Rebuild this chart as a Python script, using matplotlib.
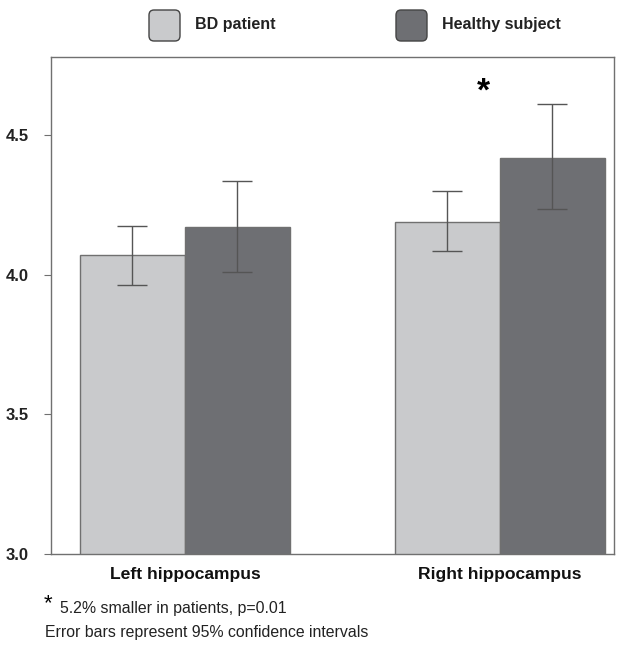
import matplotlib.pyplot as plt
from matplotlib.patches import FancyBboxPatch

plt.rcParams['font.family'] = ['Liberation Sans', 'DejaVu Sans']

regions = ['Left hippocampus', 'Right hippocampus']
groups = ['BD patient', 'Healthy subject']
bd_mean = [4.07, 4.19]
bd_lo = [3.965, 4.085]
bd_hi = [4.175, 4.30]
hs_mean = [4.17, 4.42]
hs_lo = [4.01, 4.235]
hs_hi = [4.335, 4.61]
yticks = [3.0, 3.5, 4.0, 4.5]

colors = ['#c9cacc', '#6e6f73']
edge = '#707070'

fig = plt.figure(figsize=(6.3, 6.46), dpi=100)
ax = fig.add_axes([51 / 630, 1 - 554 / 646, 563 / 630, 497 / 646])

w = 0.333
x = [0, 1]
series = [(bd_mean, bd_lo, bd_hi), (hs_mean, hs_lo, hs_hi)]
for i, (m, lo, hi) in enumerate(series):
    pos = [xi - w / 2 + i * w for xi in x]
    err = [[mi - l for mi, l in zip(m, lo)], [h - mi for mi, h in zip(m, hi)]]
    ax.bar(pos, m, width=w, bottom=0, color=colors[i], edgecolor=edge, linewidth=1)
    ax.errorbar(pos, m, yerr=err, fmt='none', ecolor='#555555', elinewidth=1,
                capsize=11, capthick=1)

ax.set_xlim(-0.425, 1.362)
ax.set_ylim(3.0, 4.78)
ax.set_yticks(yticks)
ax.set_yticklabels([f'{t:.1f}' for t in yticks], fontsize=12, fontweight='bold',
                   color='#222222')
ax.set_xticks(x)
ax.set_xticklabels(regions, fontsize=12.6, fontweight='bold', color='#111111')
ax.tick_params(axis='x', length=0, pad=9)
ax.tick_params(axis='y', length=5, color='#707070', direction='out', pad=11)
for s in ax.spines.values():
    s.set_color('#707070')
    s.set_linewidth(1)

ax.text(0.946, 4.655, '*', fontsize=24, fontweight='bold', ha='center', va='center')

# legend at top
for (x0, lab, c) in [(149, groups[0], colors[0]), (396, groups[1], colors[1])]:
    box = FancyBboxPatch((x0 / 630, 1 - 41 / 646), 31 / 630, 31 / 646,
                         boxstyle='round,pad=0,rounding_size=0.008',
                         transform=fig.transFigure, facecolor=c,
                         edgecolor='#444444', linewidth=1)
    fig.patches.append(box)
    fig.text((x0 + 46) / 630, 1 - 25 / 646, lab, fontsize=11.5, fontweight='bold',
             va='center', ha='left', color='#222222')

# footnotes
fig.text(44 / 630, 1 - 604 / 646, '*', fontsize=16, va='center', ha='left')
fig.text(60 / 630, 1 - 609 / 646, '5.2% smaller in patients, p=0.01', fontsize=11.4,
         va='center', ha='left', color='#222222')
fig.text(45 / 630, 1 - 632 / 646, 'Error bars represent 95% confidence intervals',
         fontsize=11.4, va='center', ha='left', color='#222222')

fig.savefig('out.png', dpi=100)
